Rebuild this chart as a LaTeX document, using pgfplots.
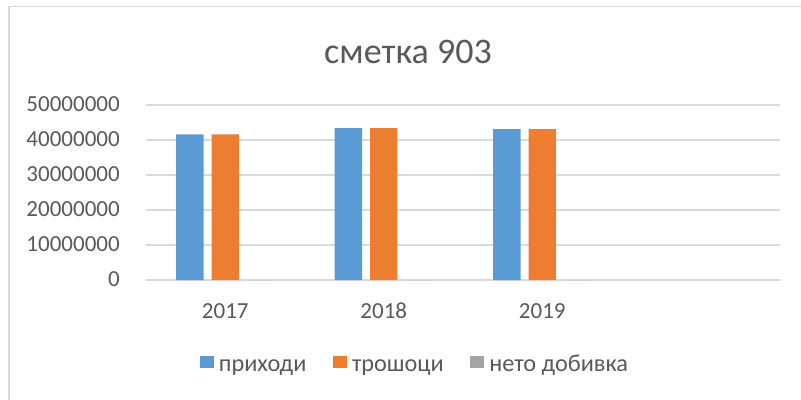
\documentclass[border=0pt]{standalone}
\usepackage{pgfplots}
\pgfplotsset{compat=1.18}
\usepackage{fontspec}
\setmainfont{Carlito}
\definecolor{cblue}{HTML}{5B9BD5}
\definecolor{corange}{HTML}{ED7D31}
\definecolor{cgray}{HTML}{A5A5A5}
\definecolor{ctext}{HTML}{595959}
\definecolor{cgrid}{HTML}{D9D9D9}
\begin{document}
\begin{tikzpicture}[x=0.75pt,y=0.75pt]
\useasboundingbox (0,0) rectangle (801,400);
\begin{scope}
\clip (0,0) rectangle (801,400);
\draw[cgrid, line width=1.1pt] (9,393.5) rectangle (840,-40);
\end{scope}
\node[anchor=base, text=ctext, inner sep=0pt, font=\fontsize{27}{32}\selectfont] at (408,336.7) {сметка 903};
\begin{axis}[
  at={(109.5pt,90pt)}, anchor=south west,
  scale only axis, width=475.5pt, height=131.25pt,
  ymin=0, ymax=50000000, xmin=-0.5, xmax=3.5,
  ybar=6pt, bar width=20.6pt,
  axis line style={draw=none},
  major tick length=0pt,
  ymajorgrids, grid style={cgrid, line width=1.1pt},
  xtick={0,1,2}, xticklabels={2017,2018,2019},
  ytick={0,10000000,20000000,30000000,40000000,50000000},
  scaled y ticks=false,
  /pgf/number format/.cd, fixed, 1000 sep={}, assume math mode=true, /pgfplots/.cd,
  ticklabel style={font=\fontsize{17.25}{20}\selectfont, text=ctext, inner sep=0pt},
  xticklabel style={anchor=base, yshift=-28.7pt},
  yticklabel style={anchor=base east, xshift=-19.5pt, yshift=-5pt},
  legend style={at={(axis description cs:0.4227,-0.4954)}, anchor=center, draw=none, fill=none,
    legend columns=-1, font=\fontsize{18.2}{22}\selectfont, text=ctext,
    nodes={inner sep=0pt, text height=10pt, text depth=4pt},
    /tikz/every odd column/.append style={column sep=3.75pt},
    /tikz/every even column/.append style={column sep=20pt}},
  legend image code/.code={\fill[#1] (0pt,0pt) rectangle (10.5pt,8.8pt);},
]
\addplot[fill=cblue, draw=none] coordinates {(0,41600000) (1,43400000) (2,43100000)};
\addplot[fill=corange, draw=none] coordinates {(0,41600000) (1,43400000) (2,43100000)};
\addplot[fill=cgray, draw=none] coordinates {(0,0) (1,0) (2,0)};
\legend{приходи, трошоци, нето добивка}
\end{axis}
\end{tikzpicture}
\end{document}
